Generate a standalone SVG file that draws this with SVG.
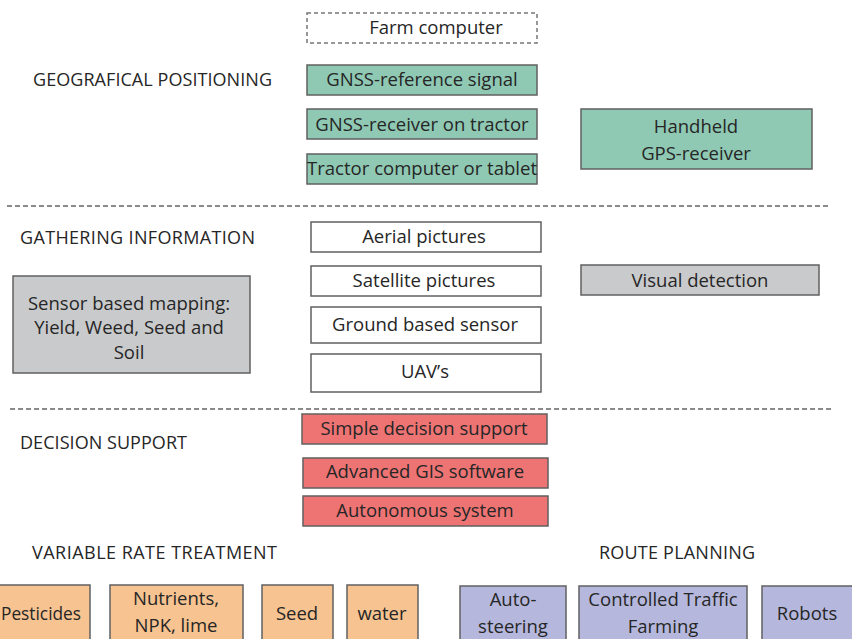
<svg xmlns="http://www.w3.org/2000/svg" width="852" height="639" viewBox="0 0 852 639">
<style>
text{font-family:"Open Sans","Liberation Sans",sans-serif;font-size:18.5px;fill:#262626;text-anchor:middle}
.h{text-anchor:start;font-size:18px}
.box{stroke:#606060;stroke-width:1.5}
.g{fill:#8fc9b4}.s{fill:#c9cacc}.w{fill:#ffffff}.r{fill:#ee7474}.o{fill:#f6c391}.p{fill:#b5b8dc}
.d{fill:#fff;stroke-dasharray:4 3;stroke:#777;stroke-width:1.5}
.sep{stroke:#666;stroke-width:1.3;stroke-dasharray:5 3;fill:none}
</style>
<rect width="852" height="639" fill="#fff"/>
<g id="headings">
<text class="h" x="33" y="86" textLength="239">GEOGRAFICAL POSITIONING</text>
<text class="h" x="20" y="244" textLength="235">GATHERING INFORMATION</text>
<text class="h" x="20" y="449" textLength="167">DECISION SUPPORT</text>
<text class="h" x="32" y="559" textLength="245">VARIABLE RATE TREATMENT</text>
<text class="h" x="599" y="559" textLength="156">ROUTE PLANNING</text>
</g>
<g id="connectors">
<line class="sep" x1="7" y1="206" x2="830" y2="206"/>
<line class="sep" x1="10" y1="409" x2="833" y2="409"/>
</g>
<g id="farm-computer"><rect class="d" x="307" y="13" width="230" height="30"/><text x="436" y="34">Farm computer</text></g>
<g id="gnss-reference"><rect class="box g" x="307" y="65" width="230" height="30"/><text x="422" y="86">GNSS-reference signal</text></g>
<g id="gnss-receiver"><rect class="box g" x="307" y="109" width="230" height="30"/><text x="422" y="131">GNSS-receiver on tractor</text></g>
<g id="tractor-computer"><rect class="box g" x="307" y="154" width="230" height="30"/><text x="422" y="175" textLength="230" lengthAdjust="spacingAndGlyphs">Tractor computer or tablet</text></g>
<g id="handheld-gps"><rect class="box g" x="581" y="109" width="231" height="60"/><text x="696" y="133">Handheld</text><text x="696" y="160">GPS-receiver</text></g>
<g id="aerial"><rect class="box w" x="311" y="222" width="230" height="30"/><text x="424" y="243">Aerial pictures</text></g>
<g id="satellite"><rect class="box w" x="311" y="266" width="230" height="30"/><text x="424" y="287">Satellite pictures</text></g>
<g id="ground-sensor"><rect class="box w" x="311" y="307" width="230" height="36"/><text x="425" y="331">Ground based sensor</text></g>
<g id="uav"><rect class="box w" x="311" y="354" width="230" height="38"/><text x="425" y="378">UAV’s</text></g>
<g id="visual-detection"><rect class="box s" x="581" y="265" width="238" height="30"/><text x="700" y="287">Visual detection</text></g>
<g id="sensor-mapping"><rect class="box s" x="13" y="276" width="237" height="97"/><text x="129" y="310">Sensor based mapping:</text><text x="129" y="334">Yield, Weed, Seed and</text><text x="129" y="359">Soil</text></g>
<g id="simple-decision"><rect class="box r" x="302" y="414" width="245" height="30"/><text x="424" y="435">Simple decision support</text></g>
<g id="advanced-gis"><rect class="box r" x="303" y="458" width="245" height="30"/><text x="425" y="478">Advanced GIS software</text></g>
<g id="autonomous"><rect class="box r" x="303" y="496" width="245" height="30"/><text x="425" y="517">Autonomous system</text></g>
<g id="pesticides"><rect class="box o" x="-15" y="585" width="105" height="70"/><text x="1" y="620" style="text-anchor:start" textLength="80" lengthAdjust="spacingAndGlyphs">Pesticides</text></g>
<g id="nutrients"><rect class="box o" x="110" y="585" width="133" height="70"/><text x="176" y="605">Nutrients,</text><text x="176" y="632">NPK, lime</text></g>
<g id="seed"><rect class="box o" x="262" y="585" width="71" height="70"/><text x="297" y="620">Seed</text></g>
<g id="water"><rect class="box o" x="347" y="585" width="71" height="70"/><text x="382" y="620">water</text></g>
<g id="auto-steering"><rect class="box p" x="460" y="586" width="106" height="70"/><text x="513" y="606">Auto-</text><text x="513" y="633">steering</text></g>
<g id="controlled-traffic"><rect class="box p" x="579" y="586" width="168" height="70"/><text x="663" y="606">Controlled Traffic</text><text x="663" y="633">Farming</text></g>
<g id="robots"><rect class="box p" x="762" y="586" width="95" height="70"/><text x="807" y="620">Robots</text></g>
</svg>
